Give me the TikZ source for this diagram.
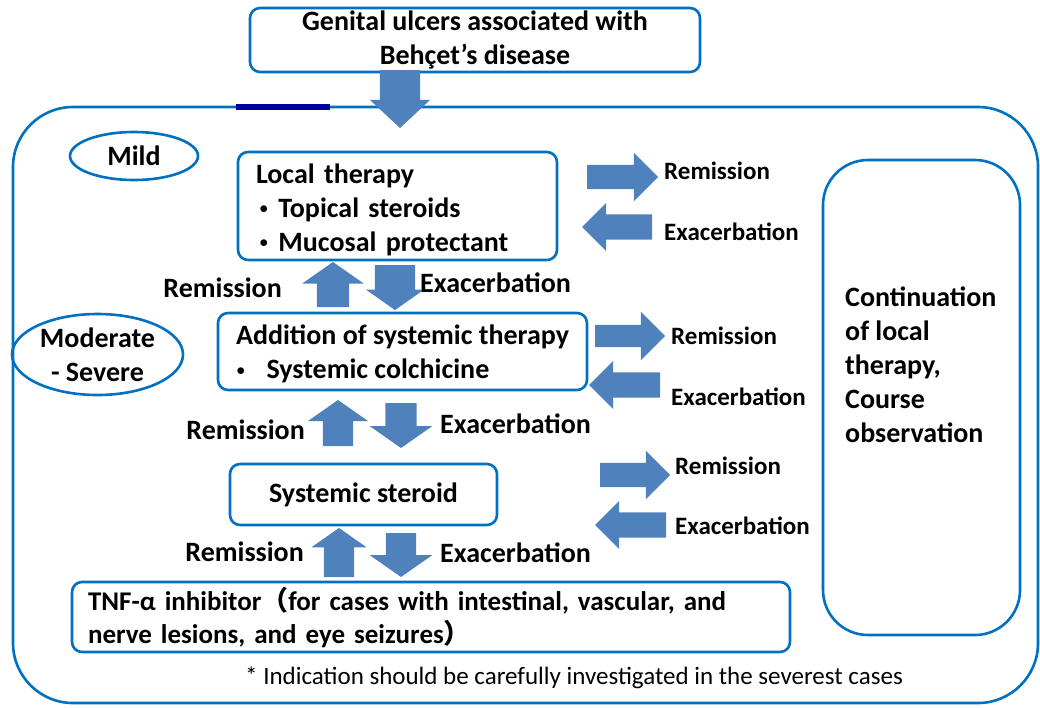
\documentclass[tikz,border=0pt]{standalone}
\usepackage{fontspec}
\setmainfont{Carlito}
\newfontfamily\cjk{Noto Sans CJK SC}
\usetikzlibrary{shapes.arrows,shapes.geometric}
\definecolor{boxc}{RGB}{0,112,192}
\definecolor{arrc}{RGB}{79,129,189}
\definecolor{navyc}{RGB}{0,0,160}
\newcommand{\smbul}{\raisebox{2.5pt}{\mdseries\fontsize{19}{19}\selectfont\textbullet}}
\begin{document}
\begin{tikzpicture}[x=1pt,y=-1pt,
  bigfont/.style={font=\bfseries\fontsize{28}{34}\selectfont},
  box/.style={draw=boxc, line width=2.6pt, rounded corners=10pt, fill=white, inner sep=0pt, bigfont},
  oval/.style={ellipse, draw=boxc, line width=2.6pt, inner sep=0pt, bigfont, align=center},
  barrow/.style={single arrow, fill=arrc, draw=none, inner xsep=0pt, outer sep=0pt, anchor=tail, single arrow tip angle=90},
  varrow/.style={barrow, single arrow tip angle=110},
  lab/.style={inner sep=0pt, bigfont},
  rlab/.style={inner sep=0pt, font=\bfseries\fontsize{25}{28}\selectfont, anchor=west}
]
\useasboundingbox (0,0) rectangle (1040,707);
% outer frame
\draw[draw=boxc, line width=2.6pt, rounded corners=60pt] (13,107) rectangle (1038,703);
\draw[navyc, line width=6pt] (236,107) -- (330,107);
% top box
\node[box, minimum width=450pt, minimum height=64pt, align=center] (top) at (475,40)
  {Genital ulcers associated with\\Behçet’s disease};
\node[barrow, single arrow tip angle=94, inner ysep=20pt, minimum width=60pt, single arrow head extend=10pt, minimum height=58pt, rotate=-90] (a0) at (400,70) {};
% ellipses
\node[oval, minimum width=128pt, minimum height=48pt] (mild) at (134,156) {Mild};
\node[oval, minimum width=171pt, minimum height=81pt] (mod) at (97.5,354.5) {Moderate\\- Severe};
% local therapy
\node[box, minimum width=319pt, minimum height=108pt, text width=283pt, align=left] (local) at (397.5,206)
  {\rule{0pt}{27pt}Local therapy\\\hspace*{3pt}\smbul\hspace{10pt}Topical steroids\\\hspace*{3pt}\smbul\hspace{10pt}Mucosal protectant};
% addition
\node[box, minimum width=369pt, minimum height=77pt, align=left] (add) at (402.5,351.5)
  {\rule{0pt}{25pt}Addition of systemic therapy\\\smbul\hspace{21pt}Systemic colchicine};
% systemic steroid
\node[box, minimum width=267pt, minimum height=61pt] (ster) at (363.5,494.5) {Systemic steroid};
% TNF
\node[box, minimum width=718pt, minimum height=70pt, text width=686pt, align=left, font=\bfseries\fontsize{27}{33}\selectfont] (tnf) at (431,617)
  {TNF-α inhibitor{\cjk （}for cases with intestinal, vascular, and\\nerve lesions, and eye seizures{\cjk ）}};
% right box
\node[draw=boxc, line width=2.6pt, rounded corners=45pt, minimum width=197pt, minimum height=475pt] (cont) at (921.5,397.5) {};
\node[lab, anchor=west, align=left] (conttext) at (845,365)
  {Continuation\\of local\\therapy,\\Course\\observation};
% vertical arrows
\node[varrow, inner ysep=16pt, minimum width=61pt, single arrow head extend=14.5pt, minimum height=45pt, rotate=90] (u1) at (333,307) {};
\node[varrow, inner ysep=20pt, minimum width=58pt, single arrow head extend=9pt, minimum height=45pt, rotate=-90] (d1) at (395,265) {};
\node[varrow, inner ysep=15pt, minimum width=60pt, single arrow head extend=15pt, minimum height=46pt, rotate=90] (u2) at (338,446) {};
\node[varrow, inner ysep=15.5pt, minimum width=62pt, single arrow head extend=15.5pt, minimum height=45pt, rotate=-90] (d2) at (401,403) {};
\node[varrow, inner ysep=15pt, minimum width=55pt, single arrow head extend=12.5pt, minimum height=49pt, rotate=90] (u3) at (339,577) {};
\node[varrow, inner ysep=15pt, minimum width=62pt, single arrow head extend=16pt, minimum height=44pt, rotate=-90] (d3) at (401,533) {};
% vertical labels
\node[lab, anchor=east] (lr1) at (282,288) {Remission};
\node[lab, anchor=west] (le1) at (420,283) {Exacerbation};
\node[lab, anchor=east] (lr2) at (305,430) {Remission};
\node[lab, anchor=west] (le2) at (440,424) {Exacerbation};
\node[lab, anchor=east] (lr3) at (304,552) {Remission};
\node[lab, anchor=west] (le3) at (440,553) {Exacerbation};
% horizontal arrows
\node[barrow, inner ysep=12pt, minimum width=48pt, single arrow head extend=12pt, minimum height=71pt] (r1) at (587,177) {};
\node[barrow, inner ysep=12.5pt, minimum width=48pt, single arrow head extend=11.5pt, minimum height=70pt, rotate=180] (l1) at (652,227) {};
\node[barrow, inner ysep=11pt, minimum width=48pt, single arrow head extend=13pt, minimum height=70pt] (r2) at (595,336) {};
\node[barrow, inner ysep=12.5pt, minimum width=48pt, single arrow head extend=11.5pt, minimum height=71pt, rotate=180] (l2) at (660,385) {};
\node[barrow, inner ysep=12pt, minimum width=48pt, single arrow head extend=12pt, minimum height=70pt] (r3) at (600,475) {};
\node[barrow, inner ysep=12.5pt, minimum width=48pt, single arrow head extend=11.5pt, minimum height=71pt, rotate=180] (l3) at (666,525) {};
\node[rlab] (rr1) at (664,171) {Remission};
\node[rlab] (re1) at (664,232) {Exacerbation};
\node[rlab] (rr2) at (671,336) {Remission};
\node[rlab] (re2) at (671,397) {Exacerbation};
\node[rlab] (rr3) at (675,466) {Remission};
\node[rlab] (re3) at (675,526) {Exacerbation};
% footer
\node[inner sep=0pt, font=\fontsize{25}{28}\selectfont] (foot) at (574,678)
  {* Indication should be carefully investigated in the severest cases};
\end{tikzpicture}
\end{document}
